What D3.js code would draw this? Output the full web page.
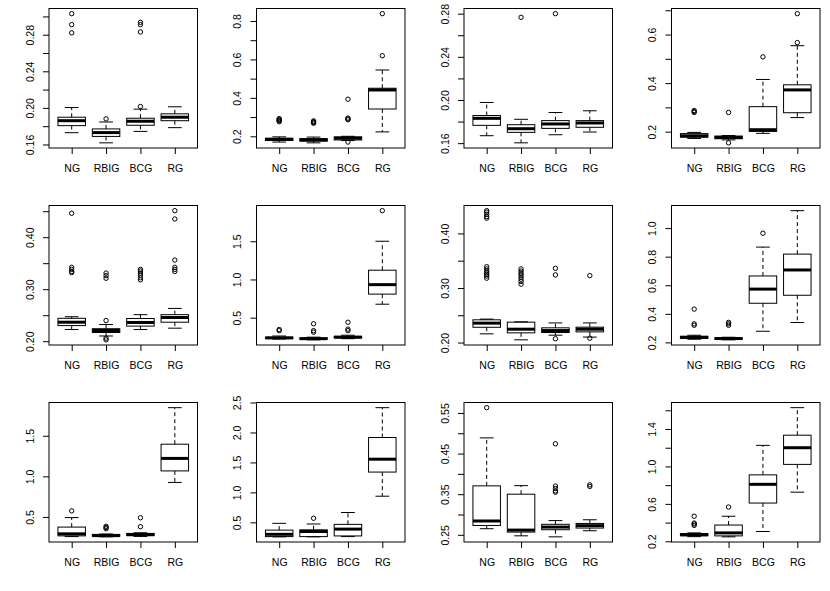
<!DOCTYPE html>
<html>
<head>
<meta charset="utf-8">
<script src="https://cdn.jsdelivr.net/npm/d3@7"></script>
<style>
  body { margin: 0; background: #fff; }
  text { font-family: "Liberation Sans", Arial, Helvetica, sans-serif; font-size: 10.5px; fill: #000; }
</style>
</head>
<body>
<div id="chart"></div>
<script>
// groups shown under every panel
const groups = ["NG", "RBIG", "BCG", "RG"];

// one row per group: [lower whisker, Q1, median, Q3, upper whisker]
const stats1 = [[0.1729, 0.1806, 0.186, 0.1898, 0.2004], [0.1618, 0.1688, 0.173, 0.177, 0.1846], [0.1743, 0.181, 0.1854, 0.1887, 0.1986], [0.1784, 0.186, 0.1898, 0.1935, 0.2012]];
const outliers1 = [[0.282, 0.291, 0.303], [0.188], [0.2015, 0.283, 0.291, 0.2935], []];
const stats2 = [[0.170, 0.178, 0.184, 0.190, 0.197], [0.166, 0.175, 0.181, 0.188, 0.196], [0.178, 0.181, 0.190, 0.197, 0.200], [0.223, 0.342, 0.441, 0.450, 0.545]];
const outliers2 = [[0.276, 0.280, 0.284, 0.288, 0.292], [0.268, 0.272, 0.276, 0.280], [0.170, 0.286, 0.290, 0.295, 0.393], [0.619, 0.838]];
const stats3 = [[0.1669, 0.1765, 0.183, 0.1856, 0.1977], [0.1603, 0.170, 0.1734, 0.1771, 0.1821], [0.1678, 0.1737, 0.1778, 0.1809, 0.1884], [0.1703, 0.1747, 0.1787, 0.1809, 0.190]];
const outliers3 = [[], [0.2766], [0.280], []];
const stats4 = [[0.172, 0.177, 0.183, 0.192, 0.197], [0.166, 0.171, 0.176, 0.182, 0.184], [0.193, 0.201, 0.208, 0.303, 0.415], [0.258, 0.278, 0.372, 0.393, 0.554]];
const outliers4 = [[0.279, 0.283, 0.287], [0.154, 0.279], [0.508], [0.567, 0.686]];

const stats5 = [[0.2224, 0.230, 0.2365, 0.244, 0.247], [0.210, 0.2167, 0.2205, 0.224, 0.232], [0.2224, 0.229, 0.236, 0.2436, 0.251], [0.225, 0.2365, 0.2455, 0.251, 0.263]];
const outliers5 = [[0.332, 0.334, 0.338, 0.342, 0.446], [0.2026, 0.2058, 0.2397, 0.321, 0.326, 0.331], [0.318, 0.322, 0.327, 0.331, 0.335, 0.338], [0.334, 0.338, 0.342, 0.356, 0.435, 0.451]];
const stats6 = [[0.220, 0.228, 0.235, 0.245, 0.260], [0.210, 0.218, 0.225, 0.235, 0.245], [0.225, 0.235, 0.245, 0.255, 0.270], [0.676, 0.808, 0.932, 1.121, 1.500]];
const outliers6 = [[0.330, 0.345], [0.310, 0.330, 0.420], [0.330, 0.350, 0.440], [1.900]];
const stats7 = [[0.216, 0.228, 0.2356, 0.2417, 0.243], [0.205, 0.2178, 0.2245, 0.2374, 0.238], [0.2135, 0.2184, 0.222, 0.227, 0.236], [0.210, 0.2196, 0.2245, 0.2282, 0.236]];
const outliers7 = [[0.318, 0.322, 0.325, 0.328, 0.331, 0.335, 0.339, 0.428, 0.431, 0.435, 0.439, 0.4417], [0.307, 0.312, 0.316, 0.320, 0.324, 0.327, 0.331, 0.335], [0.207, 0.324, 0.336], [0.208, 0.3227]];
const stats8 = [[0.222, 0.228, 0.235, 0.243, 0.250], [0.218, 0.222, 0.227, 0.232, 0.236], [0.278, 0.474, 0.573, 0.665, 0.867], [0.339, 0.530, 0.707, 0.818, 1.122]];
const outliers8 = [[0.320, 0.330, 0.433], [0.320, 0.330, 0.340], [0.964], []];

const stats9 = [[0.258, 0.267, 0.292, 0.375, 0.492], [0.255, 0.262, 0.270, 0.285, 0.290], [0.260, 0.270, 0.282, 0.297, 0.305], [0.925, 1.067, 1.221, 1.396, 1.846]];
const outliers9 = [[0.575], [0.355, 0.370, 0.385], [0.380, 0.490], []];
const stats10 = [[0.258, 0.262, 0.300, 0.370, 0.483], [0.258, 0.262, 0.347, 0.375, 0.472], [0.262, 0.273, 0.387, 0.466, 0.664], [0.936, 1.339, 1.554, 1.916, 2.414]];
const outliers10 = [[], [0.568], [], []];
const stats11 = [[0.265, 0.273, 0.284, 0.3705, 0.4886], [0.2475, 0.2567, 0.2616, 0.350, 0.371], [0.245, 0.2625, 0.269, 0.2758, 0.285], [0.260, 0.2666, 0.2725, 0.278, 0.287]];
const outliers11 = [[0.563], [], [0.355, 0.358, 0.364, 0.370, 0.474], [0.369, 0.373]];
const stats12 = [[0.250, 0.260, 0.270, 0.283, 0.290], [0.248, 0.258, 0.290, 0.374, 0.468], [0.305, 0.609, 0.809, 0.910, 1.225], [0.725, 1.022, 1.200, 1.334, 1.628]];
const outliers12 = [[0.370, 0.385, 0.395, 0.468], [0.566], [], []];

// y-axis ticks and the labels R kept on each panel
const ticks1 = [0.16, 0.18, 0.20, 0.22, 0.24, 0.26, 0.28, 0.30];
const labels1 = ["0.16", "0.20", "0.24", "0.28"];
const ticks2 = [0.2, 0.3, 0.4, 0.5, 0.6, 0.7, 0.8];
const labels2 = ["0.2", "0.4", "0.6", "0.8"];
const ticks3 = [0.16, 0.18, 0.20, 0.22, 0.24, 0.26, 0.28];
const labels3 = ["0.16", "0.20", "0.24", "0.28"];
const ticks4 = [0.2, 0.3, 0.4, 0.5, 0.6, 0.7];
const labels4 = ["0.2", "0.4", "0.6"];
const ticks5 = [0.20, 0.25, 0.30, 0.35, 0.40, 0.45];
const labels5 = ["0.20", "0.30", "0.40"];
const ticks6 = [0.5, 1.0, 1.5];
const labels6 = ["0.5", "1.0", "1.5"];
const ticks7 = [0.20, 0.25, 0.30, 0.35, 0.40];
const labels7 = ["0.20", "0.30", "0.40"];
const ticks8 = [0.2, 0.4, 0.6, 0.8, 1.0];
const labels8 = ["0.2", "0.4", "0.6", "0.8", "1.0"];
const ticks9 = [0.5, 1.0, 1.5];
const labels9 = ["0.5", "1.0", "1.5"];
const ticks10 = [0.5, 1.0, 1.5, 2.0, 2.5];
const labels10 = ["0.5", "1.0", "1.5", "2.0", "2.5"];
const ticks11 = [0.25, 0.30, 0.35, 0.40, 0.45, 0.50, 0.55];
const labels11 = ["0.25", "0.35", "0.45", "0.55"];
const ticks12 = [0.2, 0.4, 0.6, 0.8, 1.0, 1.2, 1.4, 1.6];
const labels12 = ["0.2", "0.6", "1.0", "1.4"];

const panels = [
    [stats1, outliers1, ticks1, labels1], [stats2, outliers2, ticks2, labels2],
    [stats3, outliers3, ticks3, labels3], [stats4, outliers4, ticks4, labels4],
    [stats5, outliers5, ticks5, labels5], [stats6, outliers6, ticks6, labels6],
    [stats7, outliers7, ticks7, labels7], [stats8, outliers8, ticks8, labels8],
    [stats9, outliers9, ticks9, labels9], [stats10, outliers10, ticks10, labels10],
    [stats11, outliers11, ticks11, labels11], [stats12, outliers12, ticks12, labels12]
].map(([stats, out, ticks, labels]) => ({stats, out, ticks, labels}));

//**********************************************************************************************
//                                  CONSTANTS FOR CHART SIZE
//**********************************************************************************************
const TOTAL_WIDTH = 830;
const TOTAL_HEIGHT = 591;
const N_COLS = 4;
const CELL_W = TOTAL_WIDTH / N_COLS;
const CELL_H = TOTAL_HEIGHT / 3;
const MARGIN_LEFT = 49;
const MARGIN_TOP = 8.5;
const PLOT_W = 148.5;
const PLOT_H = 139.5;
const TICK_LEN = 6;
const X_LABEL_DOWN = 24;
const Y_LABEL_LEFT = 15.3;
const BOX_HALF = 0.4;      // boxwex / 2
const STAPLE_HALF = 0.2;   // staplewex * boxwex / 2
const OUT_R = 2.2;

const svg = d3.select("#chart").append("svg")
    .attr("width", TOTAL_WIDTH)
    .attr("height", TOTAL_HEIGHT);

panels.forEach((p, i) => {
    const col = i % N_COLS;
    const row = Math.floor(i / N_COLS);
    const g = svg.append("g")
        .attr("transform", `translate(${col * CELL_W + MARGIN_LEFT},${row * CELL_H + MARGIN_TOP})`);

    // R style: data range stretched by 4% at both ends
    const allVals = p.stats.flat().concat(p.out.flat());
    const lo = d3.min(allVals), hi = d3.max(allVals);
    const pad = (hi - lo) * 0.04;
    const y = d3.scaleLinear().domain([lo - pad, hi + pad]).range([PLOT_H, 0]);
    const xPad = groups.length * 0.04;
    const x = d3.scaleLinear().domain([0.5 - xPad, groups.length + 0.5 + xPad]).range([0, PLOT_W]);

    // y axis
    const yAxis = g.append("g")
        .call(d3.axisLeft(y).tickValues(p.ticks).tickSize(TICK_LEN)
            .tickFormat(d => {
                const lab = p.labels.find(l => Math.abs(+l - d) < 1e-9);
                return lab === undefined ? "" : lab;
            }));
    yAxis.select(".domain").remove();
    yAxis.selectAll("line").attr("stroke", "#000");
    yAxis.selectAll("text")
        .attr("x", null).attr("dy", null)
        .attr("text-anchor", "middle")
        .attr("transform", `translate(${-Y_LABEL_LEFT},0) rotate(-90)`)
        .style("font-size", null).style("font-family", null);
    yAxis.attr("font-size", null).attr("font-family", null);

    // x axis
    const xAxis = g.append("g")
        .attr("transform", `translate(0,${PLOT_H})`)
        .call(d3.axisBottom(x).tickValues(groups.map((d, k) => k + 1)).tickSize(TICK_LEN)
            .tickFormat((d, k) => groups[k]));
    xAxis.select(".domain").remove();
    xAxis.selectAll("line").attr("stroke", "#000");
    xAxis.selectAll("text").attr("y", X_LABEL_DOWN).attr("dy", null);
    xAxis.attr("font-size", null).attr("font-family", null);

    const box = g.selectAll(".box")
        .data(p.stats)
        .join("g")
        .attr("class", "box");

    // whiskers
    box.append("line")
        .attr("x1", (d, k) => x(k + 1)).attr("x2", (d, k) => x(k + 1))
        .attr("y1", d => y(d[3])).attr("y2", d => y(d[4]))
        .attr("stroke", "#000").attr("stroke-dasharray", "4,3");
    box.append("line")
        .attr("x1", (d, k) => x(k + 1)).attr("x2", (d, k) => x(k + 1))
        .attr("y1", d => y(d[1])).attr("y2", d => y(d[0]))
        .attr("stroke", "#000").attr("stroke-dasharray", "4,3");

    // staples
    [0, 4].forEach(s => {
        box.append("line")
            .attr("x1", (d, k) => x(k + 1 - STAPLE_HALF)).attr("x2", (d, k) => x(k + 1 + STAPLE_HALF))
            .attr("y1", d => y(d[s])).attr("y2", d => y(d[s]))
            .attr("stroke", "#000");
    });

    // box
    box.append("rect")
        .attr("x", (d, k) => x(k + 1 - BOX_HALF))
        .attr("width", x(1 + BOX_HALF) - x(1 - BOX_HALF))
        .attr("y", d => y(d[3]))
        .attr("height", d => y(d[1]) - y(d[3]))
        .attr("fill", "none").attr("stroke", "#000");

    // median
    box.append("line")
        .attr("x1", (d, k) => x(k + 1 - BOX_HALF)).attr("x2", (d, k) => x(k + 1 + BOX_HALF))
        .attr("y1", d => y(d[2])).attr("y2", d => y(d[2]))
        .attr("stroke", "#000").attr("stroke-width", 3);

    // outliers
    const outPts = p.out.flatMap((vals, k) => vals.map(v => ({k, v})));
    g.selectAll(".out")
        .data(outPts)
        .join("circle")
        .attr("class", "out")
        .attr("cx", d => x(d.k + 1))
        .attr("cy", d => y(d.v))
        .attr("r", OUT_R)
        .attr("fill", "none").attr("stroke", "#000");

    // frame
    g.append("rect")
        .attr("width", PLOT_W).attr("height", PLOT_H)
        .attr("fill", "none").attr("stroke", "#000");
});
</script>
</body>
</html>
